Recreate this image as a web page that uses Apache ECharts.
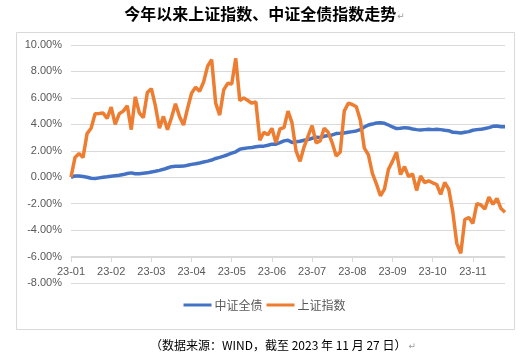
<!DOCTYPE html>
<html>
<head>
<meta charset="utf-8">
<script src="https://cdn.jsdelivr.net/npm/echarts@6/dist/echarts.min.js"></script>
<style>
html,body{margin:0;padding:0;background:#fff;}
#chart{width:529px;height:357px;}
</style>
</head>
<body>
<div id="chart"></div>
<script>
const titleText = '今年以来上证指数、中证全债指数走势';
const sourceText = '（数据来源：WIND，截至 2023 年 11 月 27 日）';
const monthLabels = ['23-01','23-02','23-03','23-04','23-05','23-06','23-07','23-08','23-09','23-10','23-11'];
const yTicks = { min: -8, max: 10, interval: 2 };
const seriesNames = ['中证全债', '上证指数'];

// 中证全债 (cumulative %, sampled every ~2 trading days)
const bondValues = [
  0.00,0.10,0.10,0.05,0.00,-0.08,-0.10,-0.05,0.00,0.03,
  0.08,0.12,0.15,0.20,0.28,0.33,0.26,0.27,0.30,0.33,
  0.40,0.45,0.52,0.60,0.70,0.80,0.83,0.83,0.84,0.90,
  0.97,1.02,1.08,1.15,1.22,1.30,1.42,1.50,1.60,1.70,
  1.82,1.92,2.12,2.18,2.22,2.25,2.30,2.35,2.35,2.42,
  2.50,2.50,2.62,2.75,2.80,2.62,2.68,2.72,2.80,2.85,
  2.95,3.02,3.00,3.10,3.15,3.20,3.30,3.32,3.35,3.40,
  3.45,3.50,3.60,3.80,3.95,4.02,4.10,4.12,4.08,3.95,
  3.80,3.68,3.70,3.75,3.72,3.65,3.60,3.58,3.60,3.62,
  3.60,3.62,3.60,3.55,3.52,3.40,3.38,3.35,3.40,3.45,
  3.55,3.60,3.62,3.68,3.75,3.85,3.88,3.82,3.82
];

// 上证指数 (cumulative %, sampled every ~2 trading days)
const shValues = [
  0.00,1.50,1.80,1.50,3.30,3.70,4.80,4.82,4.85,4.45,
  5.30,4.00,4.80,5.00,5.40,3.60,6.08,4.87,4.50,6.40,
  6.70,5.40,3.70,4.60,3.60,4.50,5.55,4.60,3.94,5.20,
  6.35,6.80,6.50,7.20,8.40,8.90,5.60,4.70,6.60,7.10,
  7.05,8.99,5.80,6.00,5.80,5.60,5.70,2.80,3.40,3.20,
  3.70,2.60,3.65,3.75,5.00,4.11,2.00,1.20,2.30,3.10,
  3.90,2.60,2.75,3.70,3.40,2.60,1.60,1.90,5.00,5.60,
  5.50,5.33,4.30,2.20,1.70,0.30,-0.50,-1.40,-0.90,0.60,
  1.20,1.90,0.20,0.80,0.05,0.25,-1.00,0.10,-0.40,-0.28,
  -0.42,-0.55,-1.30,-0.40,-0.90,-2.60,-5.00,-5.75,-3.20,-3.05,
  -3.50,-2.00,-2.10,-2.40,-1.50,-2.05,-1.60,-2.37,-2.65
];

const labelStep = 10;
const categories = bondValues.map((v, i) => (i % labelStep === 0 && monthLabels[i / labelStep]) ? monthLabels[i / labelStep] : '');
const isMonthStart = (i) => i % labelStep === 0;

const chart = echarts.init(document.getElementById('chart'), null, { renderer: 'canvas' });
const gridCommon = { left: 71, right: 24, top: 45 };
const axisFont = { color: '#595959', fontSize: 11, fontFamily: 'Liberation Sans, Arial, sans-serif' };

chart.setOption({
  animation: false,
  backgroundColor: '#ffffff',
  graphic: [
    { type: 'rect', shape: { x: 16.5, y: 32.5, width: 498, height: 297 }, style: { fill: 'none', stroke: '#d9d9d9', lineWidth: 1 }, silent: true, z: -10 },
    { type: 'text', left: 'center', top: 6, style: {
        text: '{a|' + titleText + '}{b|↵}',
        rich: {
          a: { fontSize: 16, fontWeight: 'bold', fill: '#000', fontFamily: 'Noto Sans CJK SC, sans-serif' },
          b: { fontSize: 9, fill: '#999', fontFamily: 'DejaVu Sans, sans-serif', padding: [6, 0, 0, 1] }
        } } },
    { type: 'text', left: 150, top: 339, style: {
        text: '{a|' + sourceText + '}{b|↵}',
        rich: {
          a: { fontSize: 12, fill: '#000', fontFamily: 'Noto Sans CJK SC, sans-serif' },
          b: { fontSize: 9, fill: '#999', fontFamily: 'DejaVu Sans, sans-serif', padding: [4, 0, 0, 2] }
        } } }
  ],
  legend: {
    data: seriesNames,
    bottom: 41,
    left: 'center',
    icon: 'rect',
    itemWidth: 28,
    itemHeight: 3,
    itemGap: 4,
    textStyle: { color: '#595959', fontSize: 12, fontFamily: 'Noto Sans CJK SC, sans-serif', padding: [0, 0, 0, -2] }
  },
  grid: [
    Object.assign({}, gridCommon, { bottom: 74 }),
    Object.assign({}, gridCommon, { bottom: 100 })
  ],
  xAxis: [
    { gridIndex: 0, type: 'category', data: categories, boundaryGap: false,
      axisLine: { show: false }, axisTick: { show: false }, axisLabel: { show: false }, splitLine: { show: false } },
    { gridIndex: 1, type: 'category', data: categories, boundaryGap: false,
      axisLine: { show: true, lineStyle: { color: '#d9d9d9', width: 1 } },
      axisTick: { show: true, interval: isMonthStart, length: 5, lineStyle: { color: '#d9d9d9' } },
      axisLabel: Object.assign({ interval: isMonthStart, margin: 9, hideOverlap: false }, axisFont),
      splitLine: { show: false } }
  ],
  yAxis: [
    { gridIndex: 0, type: 'value', min: yTicks.min, max: yTicks.max, interval: yTicks.interval,
      axisLine: { show: false }, axisTick: { show: false },
      axisLabel: Object.assign({ margin: 9, formatter: v => v.toFixed(2) + '%' }, axisFont),
      splitLine: { lineStyle: { color: '#d9d9d9', width: 1 } } },
    { gridIndex: 1, type: 'value', min: 0, max: 1, show: false, splitLine: { show: false } }
  ],
  series: [
    { name: seriesNames[0], type: 'line', xAxisIndex: 0, yAxisIndex: 0, data: bondValues,
      showSymbol: false, symbol: 'none', lineStyle: { color: '#4472C4', width: 3.5 }, itemStyle: { color: '#4472C4' } },
    { name: seriesNames[1], type: 'line', xAxisIndex: 0, yAxisIndex: 0, data: shValues,
      showSymbol: false, symbol: 'none', lineStyle: { color: '#ED7D31', width: 3.5 }, itemStyle: { color: '#ED7D31' } }
  ]
});
</script>
</body>
</html>
